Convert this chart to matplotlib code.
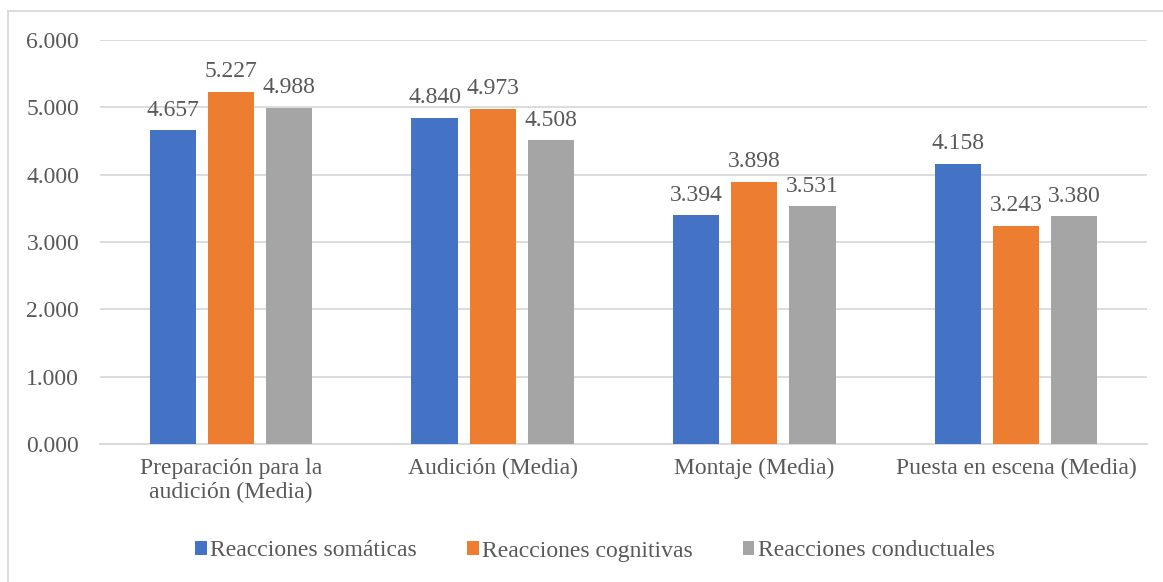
import numpy as np
import matplotlib.pyplot as plt
from matplotlib.lines import Line2D

categorias = ["Preparación para la\naudición (Media)", "Audición (Media)",
              "Montaje (Media)", "Puesta en escena (Media)"]
series = ["Reacciones somáticas", "Reacciones cognitivas", "Reacciones conductuales"]
somaticas = [4.657, 4.840, 3.394, 4.158]
cognitivas = [5.227, 4.973, 3.898, 3.243]
conductuales = [4.988, 4.508, 3.531, 3.380]
colores = ["#4472C4", "#ED7D31", "#A5A5A5"]
texto = "#595959"

plt.rcParams["font.family"] = ["Liberation Serif", "DejaVu Serif"]

fig = plt.figure(figsize=(11.63, 5.82), dpi=100)
ax = fig.add_axes([100 / 1163, 1 - 444 / 582, 1047 / 1163, 404 / 582])

x = np.arange(len(categorias))
ancho = 0.176
paso = 0.222
for i, (vals, nombre) in enumerate(zip([somaticas, cognitivas, conductuales], series)):
    barras = ax.bar(x + (i - 1) * paso, vals, ancho, color=colores[i], label=nombre, zorder=3)
    ax.bar_label(barras, labels=[f"{v:.3f}" for v in vals], padding=7,
                 fontsize=17, color=texto)

ax.set_xlim(-0.5, 3.5)
ax.set_ylim(0, 6)
ax.set_yticks(range(7))
ax.set_yticklabels([f"{v:.3f}" for v in range(7)])
ax.set_xticks(x)
ax.set_xticklabels(categorias, linespacing=1.2)
ax.tick_params(length=0, labelsize=17, labelcolor=texto)
ax.tick_params(axis="y", pad=15)
ax.tick_params(axis="x", pad=10)
ax.grid(axis="y", color="#D9D9D9", linewidth=1.3, zorder=0)
for lado in ["top", "right", "left"]:
    ax.spines[lado].set_visible(False)
ax.spines["bottom"].set_color("#D9D9D9")
ax.spines["bottom"].set_linewidth(1.3)

leg = fig.legend(loc="center", bbox_to_anchor=(595 / 1163, 1 - 551 / 582), ncol=3,
                 frameon=False, fontsize=17, handlelength=0.5, handleheight=0.5,
                 handletextpad=0.15, columnspacing=2.1)
for t in leg.get_texts():
    t.set_color(texto)

# borde exterior del gráfico
fig.add_artist(Line2D([8 / 1163, 8 / 1163], [0, 1 - 11 / 582], color="#D9D9D9", lw=1.3))
fig.add_artist(Line2D([8 / 1163, 1], [1 - 11 / 582, 1 - 11 / 582], color="#D9D9D9", lw=1.3))

fig.savefig("out.png", dpi=100)
